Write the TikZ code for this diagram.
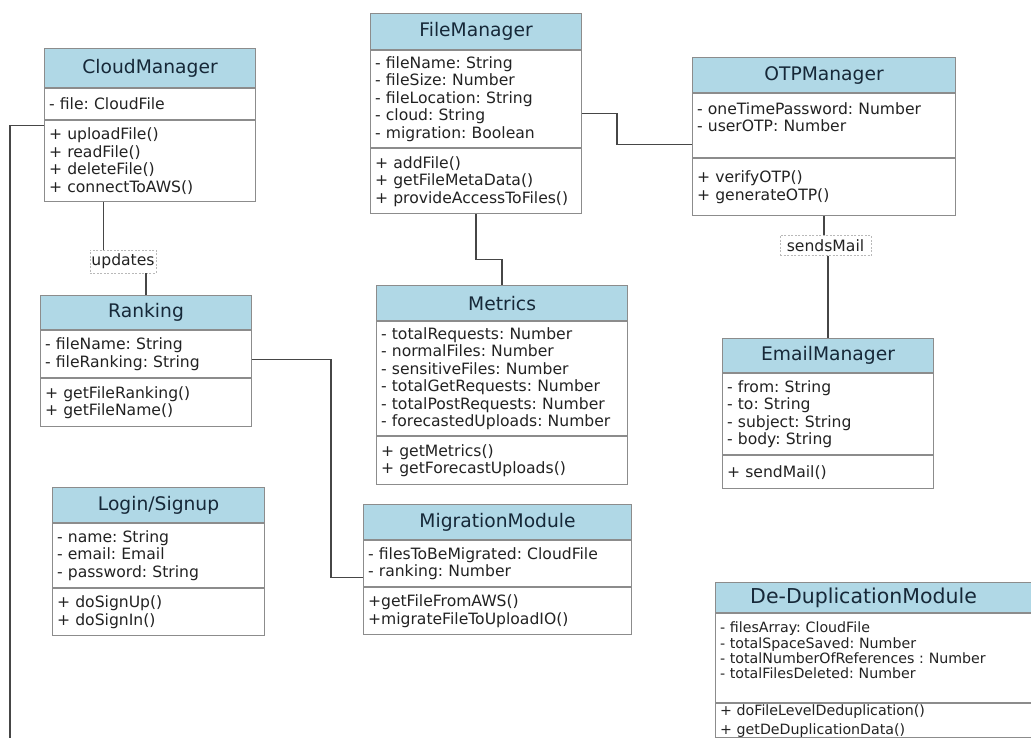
\documentclass[tikz,border=0pt]{standalone}
\usepackage{fontspec}
\setmainfont{DejaVu Sans}
\usetikzlibrary{positioning}
\definecolor{HeadBlue}{RGB}{176,216,230}
\definecolor{BoxLine}{RGB}{140,140,140}
\definecolor{LinkGray}{RGB}{70,70,70}
\definecolor{HeadText}{RGB}{22,40,56}
\definecolor{BodyText}{RGB}{34,34,34}
\frenchspacing

\begin{document}
\begin{tikzpicture}[x=1pt,y=-1pt,
        hd/.style={draw=BoxLine,fill=HeadBlue,text=HeadText,line width=1.1pt,
                   font=\fontsize{18.7}{21}\selectfont,inner sep=0pt,anchor=north west},
        sec/.style={draw=BoxLine,fill=white,text=BodyText,line width=1.1pt,
                    font=\fontsize{15.6}{17.5}\selectfont,align=left,
                    inner xsep=4.5pt,inner ysep=0pt},
        lbl/.style={draw=gray!55,dash pattern=on 2pt off 1.5pt,fill=white,text=BodyText,
                    font=\fontsize{15.6}{17.5}\selectfont,inner xsep=1.5pt,inner ysep=4pt},
        link/.style={draw=LinkGray,line width=1.4pt}
      ]
        \useasboundingbox (0,0) rectangle (1031,737);
        \clip (0,0) rectangle (1031,737);
        \node[hd,minimum width=211pt,minimum height=39pt] (cm-h) at (44,48) {CloudManager};
        \node[sec,text width=202pt,minimum height=31pt,below=0pt of cm-h] (cm-a) {- file: CloudFile};
        \node[sec,text width=202pt,minimum height=81pt,below=0pt of cm-a] (cm-m)
          {+ uploadFile()\\+ readFile()\\+ deleteFile()\\+ connectToAWS()};
        \node[hd,minimum width=211pt,minimum height=36pt] (fm-h) at (370,13) {FileManager};
        \node[sec,text width=202pt,minimum height=97pt,below=0pt of fm-h] (fm-a)
          {- fileName: String\\- fileSize: Number\\- fileLocation: String\\- cloud: String\\- migration: Boolean};
        \node[sec,text width=202pt,minimum height=65pt,below=0pt of fm-a] (fm-m)
          {+ addFile()\\+ getFileMetaData()\\+ provideAccessToFiles()};
        \node[hd,minimum width=263pt,minimum height=35pt] (otp-h) at (692,57) {OTPManager};
        \node[sec,text width=254pt,minimum height=64pt,below=0pt of otp-h] (otp-a)
          {- oneTimePassword: Number\\- userOTP: Number\\ \mbox{}};
        \node[sec,text width=254pt,minimum height=57pt,below=0pt of otp-a] (otp-m)
          {+ verifyOTP()\\+ generateOTP()};
        \node[hd,minimum width=211pt,minimum height=34pt] (rk-h) at (40,295) {Ranking};
        \node[sec,text width=202pt,minimum height=47pt,below=0pt of rk-h] (rk-a)
          {- fileName: String\\- fileRanking: String};
        \node[sec,text width=202pt,minimum height=48pt,below=0pt of rk-a] (rk-m)
          {+ getFileRanking()\\+ getFileName()};
        \node[hd,minimum width=251pt,minimum height=35pt] (met-h) at (376,285) {Metrics};
        \node[sec,text width=242pt,minimum height=114pt,below=0pt of met-h] (met-a)
          {- totalRequests: Number\\- normalFiles: Number\\- sensitiveFiles: Number\\- totalGetRequests: Number\\- totalPostRequests: Number\\- forecastedUploads: Number};
        \node[sec,text width=242pt,minimum height=48pt,below=0pt of met-a] (met-m)
          {+ getMetrics()\\+ getForecastUploads()};
        \node[hd,minimum width=211pt,minimum height=34pt] (em-h) at (722,338) {EmailManager};
        \node[sec,text width=202pt,minimum height=81pt,below=0pt of em-h] (em-a)
          {- from: String\\- to: String\\- subject: String\\- body: String};
        \node[sec,text width=202pt,minimum height=33pt,below=0pt of em-a] (em-m) {+ sendMail()};
        \node[hd,minimum width=212pt,minimum height=35pt] (lg-h) at (52,487) {Login/Signup};
        \node[sec,text width=203pt,minimum height=64pt,below=0pt of lg-h] (lg-a)
          {- name: String\\- email: Email\\- password: String};
        \node[sec,text width=203pt,minimum height=47pt,below=0pt of lg-a] (lg-m)
          {+ doSignUp()\\+ doSignIn()};
        \node[hd,minimum width=268pt,minimum height=35pt] (mm-h) at (363,504) {MigrationModule};
        \node[sec,text width=259pt,minimum height=46pt,below=0pt of mm-h] (mm-a)
          {- filesToBeMigrated: CloudFile\\- ranking: Number};
        \node[sec,text width=259pt,minimum height=47pt,below=0pt of mm-a] (mm-m)
          {+getFileFromAWS()\\+migrateFileToUploadIO()};
        \node[hd,minimum width=318pt,minimum height=30pt,font=\fontsize{20.5}{23}\selectfont]
          (dd-h) at (715,582) {De-DuplicationModule\hspace*{22pt}};
        \node[sec,text width=309pt,minimum height=89pt,font=\fontsize{14.2}{15.3}\selectfont,
              below=0pt of dd-h] (dd-a)
          {- filesArray: CloudFile\\- totalSpaceSaved: Number\\- totalNumberOfReferences : Number\\- totalFilesDeleted: Number\\ \mbox{}};
        \node[sec,text width=309pt,minimum height=34pt,font=\fontsize{14.2}{19}\selectfont,
              below=0pt of dd-a] (dd-m)
          {+ doFileLevelDeduplication()\\+ getDeDuplicationData()};
        \node[lbl] (upd) at (123,261.5) {updates};
        \node[lbl,minimum width=91pt] (snd) at (825.5,245.5) {sendsMail};
        \coordinate (cmend) at (10,745);
        \draw[link] ([yshift=-5pt]cm-m.north west) -| (cmend);
        \draw[link] ([xshift=-46.5pt]cm-m.south) -- ([xshift=-46.5pt]cm-m.south |- upd.north);
        \draw[link] (upd.south -| rk-h.north) -- (rk-h.north);
        \draw[link] ([yshift=-5.5pt]rk-a.east) -- ++(79,0) |- ([yshift=-14pt]mm-a.west);
        \draw[link] ([yshift=-14.5pt]fm-a.east) -- ++(35,0) |- ([yshift=-19pt]otp-a.west);
        \draw[link] (fm-m.south) -- ++(0,45) -| (met-h.north);
        \draw[link] (otp-m.south) -- (otp-m.south |- snd.north);
        \draw[link] (snd.south -| em-h.north) -- (em-h.north);
\end{tikzpicture}
\end{document}
